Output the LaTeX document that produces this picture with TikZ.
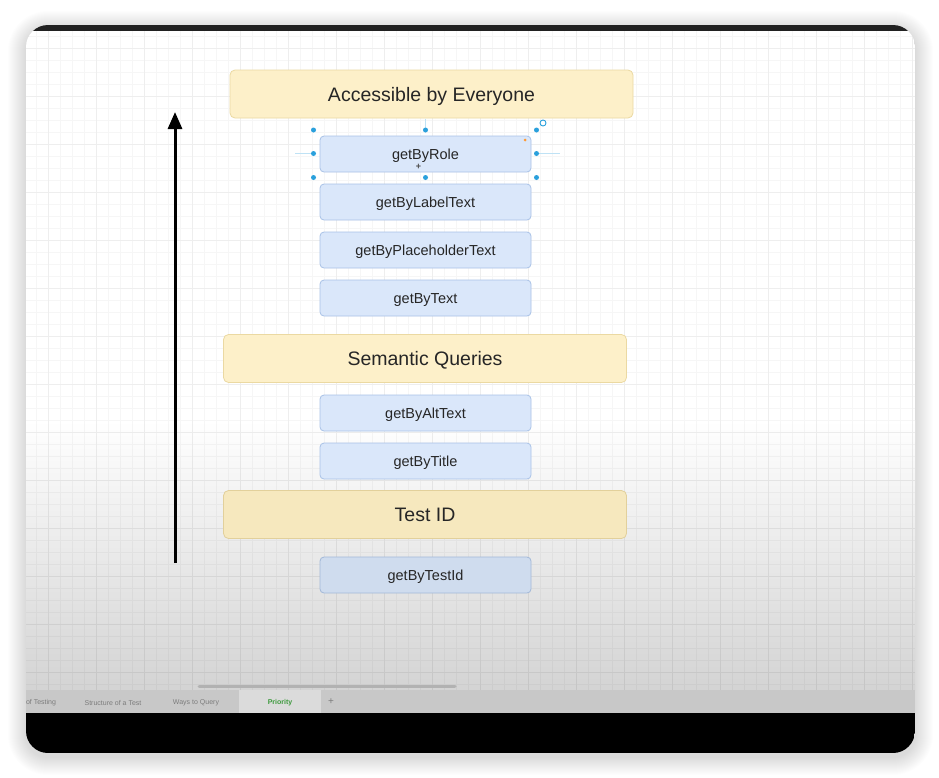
\documentclass[tikz,border=0pt]{standalone}
\usepackage{fontspec}
\setmainfont{Liberation Sans}
\usetikzlibrary{arrows.meta}
\definecolor{catfill}{HTML}{FDF0C9}
\definecolor{catborder}{HTML}{EBD9A2}
\definecolor{catfillb}{HTML}{F6E8BE}
\definecolor{catborderb}{HTML}{E2D09B}
\definecolor{qfill}{HTML}{DAE7FA}
\definecolor{qborder}{HTML}{A9C2E7}
\definecolor{qfillb}{HTML}{CFDCEE}
\definecolor{qborderb}{HTML}{A2B8D8}
\definecolor{txt}{HTML}{262626}
\definecolor{handle}{HTML}{2AA0DC}
\definecolor{tabbar}{HTML}{C8C8C8}
\definecolor{tabtxt}{HTML}{7C7C7C}
\definecolor{tabgreen}{HTML}{3E9A3E}
\tikzset{
  catbox/.style={rectangle, rounded corners=5pt, draw=catborder, fill=catfill, line width=0.8pt,
    minimum width=403pt, minimum height=48pt, inner sep=0pt, text=txt,
    text height=14pt, text depth=0pt,
    font=\fontsize{19.5}{22}\selectfont},
  qbox/.style={rectangle, rounded corners=4pt, draw=qborder, fill=qfill, line width=0.8pt,
    minimum width=211pt, minimum height=36pt, inner sep=0pt, text=txt,
    text height=10.4pt, text depth=0pt,
    font=\fontsize{14.5}{17}\selectfont},
  hdl/.style={circle, fill=handle, inner sep=0pt, minimum size=5pt},
  tablbl/.style={text=tabtxt, font=\fontsize{7}{8}\selectfont, inner sep=0pt},
  gridminor/.style={draw=black, opacity=0.035, line width=0.5pt},
  gridmajor/.style={draw=black, opacity=0.03, line width=0.6pt},
}
\begin{document}
\begin{tikzpicture}[x=1pt,y=-1pt]
\useasboundingbox (0,0) rectangle (939,777);
% shadow
\foreach \i in {1,...,18}{
  \fill[black, opacity=0.008, rounded corners=22pt+\i pt] (26-\i,25-\i+4) rectangle (915+\i,753+\i+4);
}
% frame contents
\begin{scope}
\clip[rounded corners=22pt] (26,25) rectangle (915,753);
\fill[black!87] (26,25) rectangle (915,31);
\fill[white] (26,31) rectangle (915,690);
\shade[top color=white, bottom color=black!17] (26,420) rectangle (915,690);
\draw[gridminor, step=12pt] (26,31) grid (915,690);
\draw[gridmajor, step=48pt] (26,31) grid (915,690);
\draw[line width=3pt, draw=black!30, line cap=round] (199,686) -- (455,686);
\fill[tabbar] (26,690) rectangle (915,713);
\fill[black!14] (239,690) rectangle (321,713);
\draw[black!40, line width=0.6pt] (26,713) -- (915,713);
\fill[black] (26,713) rectangle (915,753);
\node[tablbl] (t1) at (41,703) {of Testing};
\node[tablbl] (t2) at (113,703) {Structure of a Test};
\node[tablbl] (t3) at (196,703) {Ways to Query};
\node[tablbl, text=tabgreen, font=\fontsize{7}{8}\selectfont\bfseries] (t4) at (280,703) {Priority};
\node[tablbl, font=\fontsize{10}{10}\selectfont] (t5) at (331,702) {+};
\end{scope}
% diagram
\node[catbox] (acc) at (431.5,94) {Accessible by Everyone};
\node[qbox] (role) at (425.5,154) {getByRole};
\node[qbox] (label) at (425.5,202) {getByLabelText};
\node[qbox] (ph) at (425.5,250) {getByPlaceholderText};
\node[qbox] (text) at (425.5,298) {getByText};
\node[catbox] (sem) at (425,358.5) {Semantic Queries};
\node[qbox] (alt) at (425.5,413) {getByAltText};
\node[qbox] (title) at (425.5,461) {getByTitle};
\node[catbox, fill=catfillb, draw=catborderb] (tid) at (425,514.5) {Test ID};
\node[qbox, fill=qfillb, draw=qborderb] (testid) at (425.5,575) {getByTestId};
% arrow
\coordinate (abot) at (175,563);
\coordinate (atop) at (175,112);
\draw[line width=3pt, -{Triangle[length=17pt,width=14pt]}] (abot) -- (atop);
% selection handles
\draw[handle!30, line width=0.6pt] (295,153.5) -- (311,153.5);
\draw[handle!30, line width=0.6pt] (539,153.5) -- (560,153.5);
\draw[handle!30, line width=0.6pt] (425.5,119) -- (425.5,128);
\node[hdl] (h1) at (313.5,130) {};
\node[hdl] (h2) at (425.5,130) {};
\node[hdl] (h3) at (536.5,130) {};
\node[hdl] (h4) at (313.5,153.5) {};
\node[hdl] (h5) at (536.5,153.5) {};
\node[hdl] (h6) at (313.5,177.5) {};
\node[hdl] (h7) at (425.5,177.5) {};
\node[hdl] (h8) at (536.5,177.5) {};
\node[circle, draw=handle, line width=0.9pt, inner sep=0pt, minimum size=6pt] (rot) at (543,123) {};
\node[circle, fill=orange!80, inner sep=0pt, minimum size=3pt] (odot) at (525,140) {};
\node[inner sep=0pt, text=black!70, font=\fontsize{9}{9}\selectfont\bfseries] (cross) at (418.5,167) {+};
\end{tikzpicture}
\end{document}
